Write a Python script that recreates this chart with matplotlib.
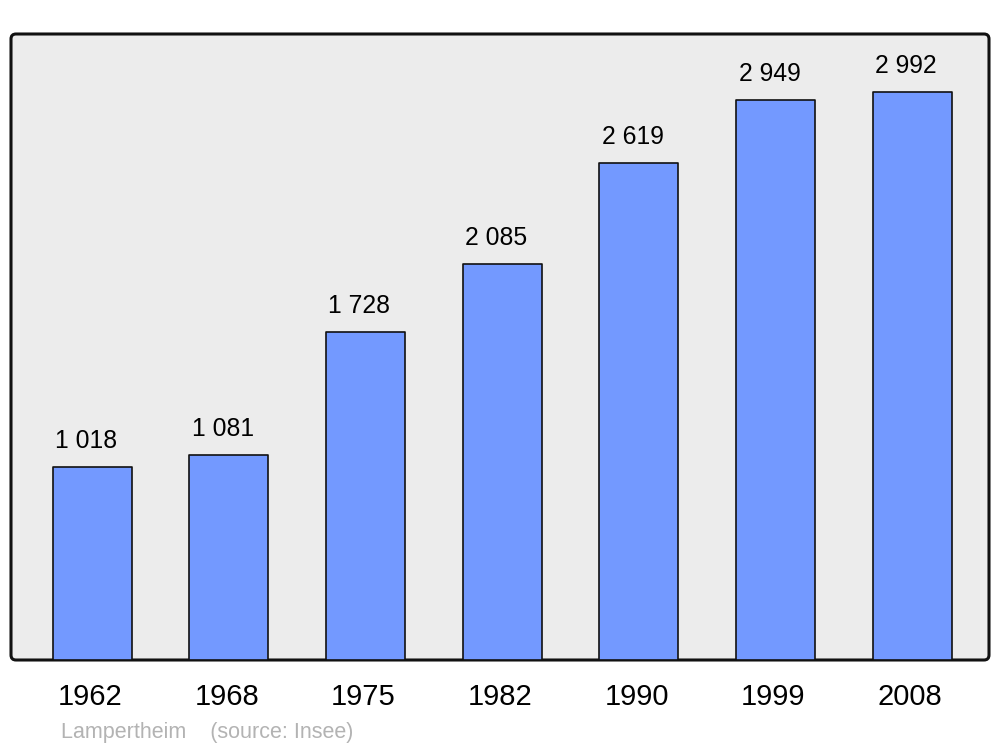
import matplotlib
matplotlib.use("Agg")
import matplotlib.pyplot as plt
import matplotlib.patches as mpatches

plt.rcParams['font.family'] = ['Liberation Sans', 'DejaVu Sans']

years = ['1962', '1968', '1975', '1982', '1990', '1999', '2008']
population = [1018, 1081, 1728, 2085, 2619, 2949, 2992]
labels = ['1 018', '1 081', '1 728', '2 085', '2 619', '2 949', '2 992']

fig = plt.figure(figsize=(10, 7.47), dpi=100)
ax = fig.add_axes([0.011, 0.1165, 0.978, 0.838])
ax.set_zorder(1)

# rounded frame drawn in pixel coords behind the axes
frame = mpatches.FancyBboxPatch((11, 747 - 660), 978, 626,
                                boxstyle="round,pad=0,rounding_size=5",
                                facecolor='#ececec', edgecolor='#111111',
                                linewidth=2.2, transform=None, zorder=-1)
fig.patches.append(frame)
ax.patch.set_visible(False)
for s in ax.spines.values():
    s.set_visible(False)

x = list(range(len(years)))
ax.bar(x, population, width=0.578, color='#7399ff', edgecolor='#111111',
       linewidth=1.2, joinstyle='round', zorder=2)

for xi, v, lab in zip(x, population, labels):
    ax.annotate(lab, (xi, v), xytext=(-6, 19), textcoords='offset pixels',
                ha='center', va='baseline', fontsize=17.8)
    ax.annotate(years[xi], (xi, 0), xytext=(-2, -45), textcoords='offset pixels',
                ha='center', va='baseline', fontsize=21, annotation_clip=False)

ax.set_xlim(-0.593, 6.563)
ax.set_ylim(0, 3298)
ax.set_xticks([])
ax.set_yticks([])

fig.text(61 / 1000, 1 - 738 / 747, 'Lampertheim    (source: Insee)',
         color='#b3b3b3', fontsize=15.5, ha='left', va='baseline')

fig.savefig('out.png', dpi=100)
